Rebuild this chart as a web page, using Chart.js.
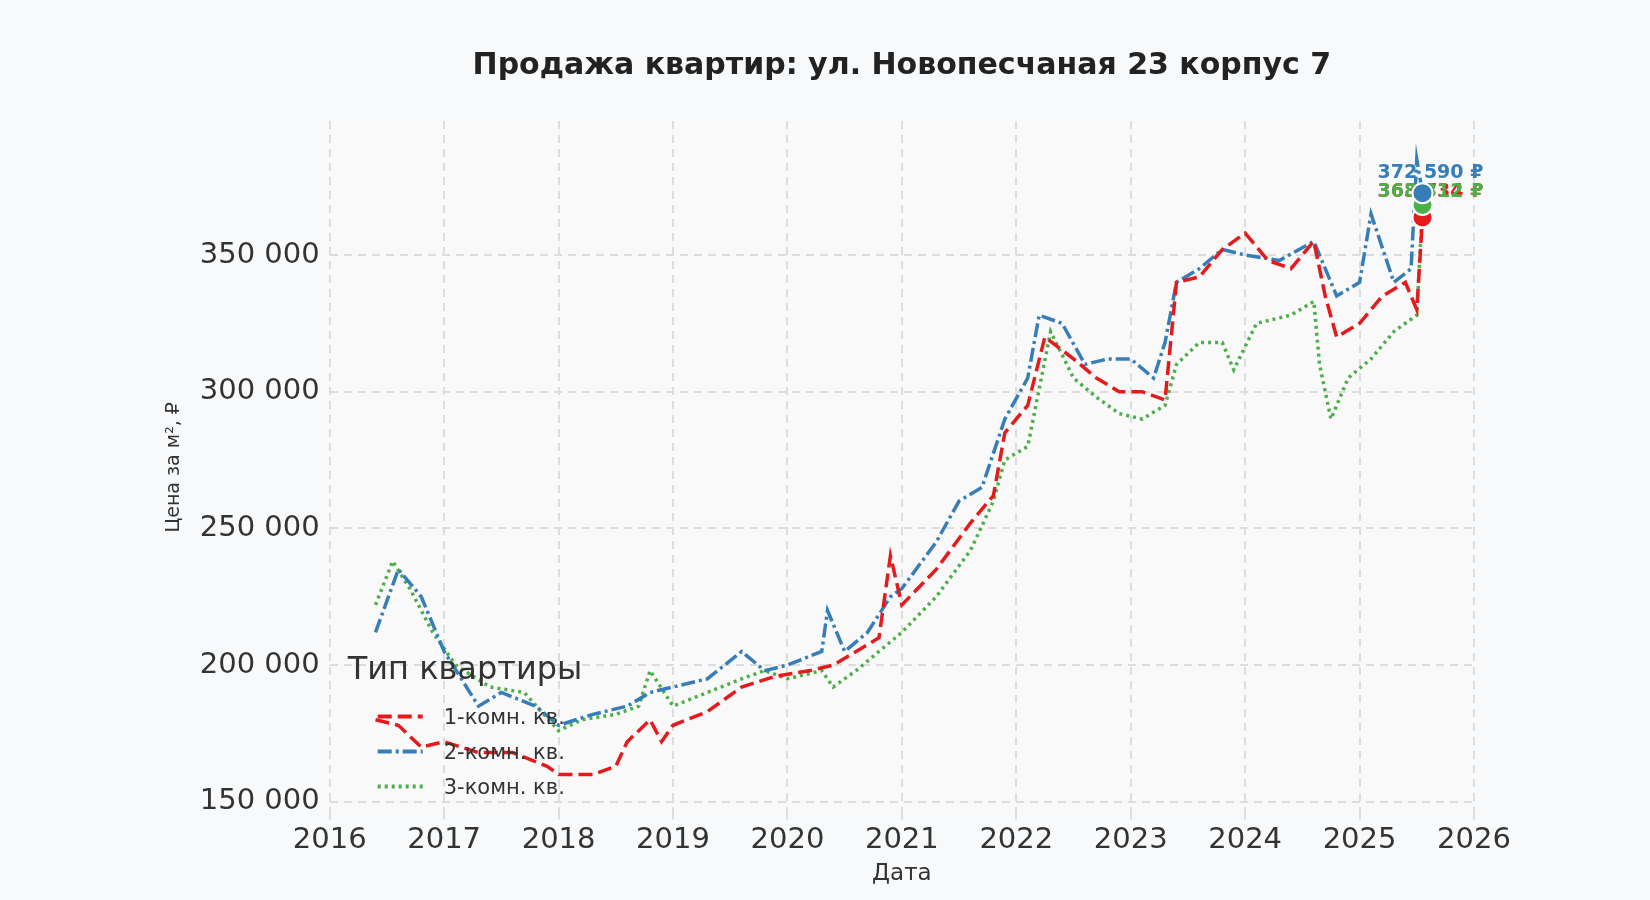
<!DOCTYPE html>
<html><head><meta charset="utf-8">
<script src="https://cdn.jsdelivr.net/npm/chart.js@4"></script>
<style>body{margin:0;background:#f8f9fa}#w{width:1650px;height:900px}</style>
</head><body><div id="w"><canvas id="c"></canvas></div>
<script>
const yearTicks = [2016, 2017, 2018, 2019, 2020, 2021, 2022, 2023, 2024, 2025, 2026];
const priceTicks = [150000, 200000, 250000, 300000, 350000];
const seriesNames = ['1-комн. кв.', '2-комн. кв.', '3-комн. кв.'];
const endLabels = ['363 734 ₽', '372 590 ₽', '368 312 ₽'];

const t1 = [2016.4,2016.6,2016.8,2017.0,2017.3,2017.6,2017.9,2018.0,2018.3,2018.5,2018.6,2018.8,2018.9,2019.0,2019.3,2019.6,2019.9,2020.2,2020.4,2020.6,2020.8,2020.9,2021.0,2021.3,2021.6,2021.8,2021.9,2022.1,2022.25,2022.5,2022.7,2022.9,2023.1,2023.3,2023.4,2023.6,2023.8,2024.0,2024.2,2024.4,2024.6,2024.7,2024.8,2025.0,2025.2,2025.4,2025.5,2025.55];
const v1 = [180000,178000,170000,172000,168000,168000,163000,160000,160000,163000,172000,180000,172000,178000,183000,192000,196000,198000,200000,205000,210000,240000,222000,235000,252000,262000,285000,295000,320000,312000,305000,300000,300000,297000,340000,342000,352000,358000,348000,345000,355000,335000,320000,325000,335000,340000,330000,363734];

const t2 = [2016.4,2016.6,2016.8,2017.0,2017.3,2017.5,2017.8,2018.0,2018.3,2018.6,2018.8,2019.0,2019.3,2019.6,2019.8,2020.0,2020.3,2020.35,2020.5,2020.7,2020.9,2021.0,2021.3,2021.5,2021.7,2021.9,2022.1,2022.2,2022.4,2022.6,2022.8,2023.0,2023.2,2023.3,2023.4,2023.6,2023.8,2024.0,2024.3,2024.6,2024.8,2025.0,2025.1,2025.3,2025.45,2025.5,2025.55];
const v2 = [212000,235000,225000,205000,185000,190000,185000,178000,182000,185000,190000,192000,195000,205000,198000,200000,205000,220000,205000,212000,225000,228000,245000,260000,265000,290000,305000,328000,325000,310000,312000,312000,305000,318000,340000,345000,352000,350000,348000,355000,335000,340000,365000,340000,345000,385000,372590];

const t3 = [2016.4,2016.55,2016.7,2016.9,2017.1,2017.4,2017.7,2018.0,2018.2,2018.5,2018.7,2018.8,2019.0,2019.3,2019.6,2019.8,2020.0,2020.3,2020.4,2020.6,2020.8,2021.0,2021.3,2021.6,2021.8,2021.9,2022.1,2022.3,2022.5,2022.7,2022.9,2023.1,2023.3,2023.4,2023.6,2023.8,2023.9,2024.1,2024.4,2024.6,2024.65,2024.75,2024.9,2025.1,2025.3,2025.5,2025.55];
const v3 = [222000,238000,228000,212000,200000,192000,190000,176000,180000,182000,185000,198000,185000,190000,195000,198000,195000,198000,192000,198000,205000,212000,225000,242000,260000,275000,280000,322000,305000,298000,292000,290000,295000,310000,318000,318000,308000,325000,328000,333000,310000,290000,305000,312000,322000,328000,368312];

const colors = ['#e41a1c', '#377eb8', '#4daf4a'];
const dashes = [[14, 6], [14, 4, 3, 4], [3, 4]];
const pts = (t, v) => t.map((x, i) => ({x: x, y: v[i]}));

const extras = {
  id: 'extras',
  beforeDraw(ch) {
    const a = ch.chartArea, c = ch.ctx;
    c.save(); c.fillStyle = '#f9f9f9'; c.fillRect(a.left, a.top, a.right - a.left, a.bottom - a.top); c.restore();
  },
  afterDatasetsDraw(ch) {
    const c = ch.ctx, xs = ch.scales.x, ys = ch.scales.y, a = ch.chartArea;
    c.save();
    c.font = 'bold 30px "DejaVu Sans"'; c.fillStyle = '#222'; c.textAlign = 'center';
    c.fillText('Продажа квартир: ул. Новопесчаная 23 корпус 7', (a.left + a.right) / 2, 74);
    [0, 2, 1].forEach(i => {
      const d = ch.data.datasets[i];
      const p = d.data[d.data.length - 1];
      const px = xs.getPixelForValue(p.x), py = ys.getPixelForValue(p.y);
      c.beginPath(); c.arc(px, py, 10, 0, Math.PI * 2);
      c.fillStyle = colors[i]; c.fill(); c.lineWidth = 2; c.strokeStyle = '#fff'; c.stroke();
      c.font = 'bold 19px "DejaVu Sans"'; c.fillStyle = colors[i]; c.textAlign = 'center';
      c.fillText(endLabels[i], px + 8, i === 1 ? py - 15 : ys.getPixelForValue(374000) + 8);
    });
    // legend
    let lx = a.left + 18, ly = a.bottom - 135;
    c.font = '32px "DejaVu Sans"'; c.fillStyle = '#333'; c.textAlign = 'left';
    c.fillText('Тип квартиры', lx, ly);
    c.font = '21px "DejaVu Sans"';
    seriesNames.forEach((n, i) => {
      const yy = ly + 45 + i * 35;
      c.beginPath(); c.setLineDash(dashes[i]); c.lineWidth = 4; c.strokeStyle = colors[i];
      c.moveTo(lx + 30, yy - 7); c.lineTo(lx + 75, yy - 7); c.stroke(); c.setLineDash([]);
      c.fillStyle = '#333'; c.fillText(n, lx + 96, yy);
    });
    c.restore();
  }
};

new Chart(document.getElementById('c'), {
  type: 'line',
  data: {
    datasets: [pts(t1, v1), pts(t2, v2), pts(t3, v3)].map((d, i) => ({
      label: seriesNames[i], data: d, borderColor: colors[i], borderWidth: 3.5,
      borderDash: dashes[i], pointRadius: 0, tension: 0, fill: false
    }))
  },
  options: {
    responsive: true, maintainAspectRatio: false, animation: false,
    layout: {padding: {left: 159, right: 176, top: 10, bottom: 12}},
    plugins: {
      legend: {display: false},
      tooltip: {enabled: false},
      title: {display: true, text: ' ', color: 'rgba(0,0,0,0)',
        font: {family: 'DejaVu Sans', size: 30, weight: 'bold'}, padding: {top: 35, bottom: 40}}
    },
    scales: {
      x: {
        type: 'linear', min: 2016, max: 2026,
        afterBuildTicks: s => { s.ticks = yearTicks.map(v => ({value: v})); },
        ticks: {color: '#333', font: {family: 'DejaVu Sans', size: 29}, callback: v => String(v), maxRotation: 0},
        grid: {color: '#dddddd', lineWidth: 2, tickLength: 6},
        border: {display: false, dash: [8, 6]},
        title: {display: true, text: 'Дата', color: '#333', font: {family: 'DejaVu Sans', size: 23}, padding: 0}
      },
      y: {
        min: 145700, max: 399000,
        afterBuildTicks: s => { s.ticks = priceTicks.map(v => ({value: v})); },
        ticks: {color: '#333', font: {family: 'DejaVu Sans', size: 29}, padding: 10,
          callback: v => String(v).replace(/\B(?=(\d{3})+(?!\d))/g, ' ')},
        grid: {color: '#dddddd', lineWidth: 2, tickLength: 0},
        border: {display: false, dash: [8, 6]},
        title: {display: true, text: 'Цена за м², ₽', color: '#333', font: {family: 'DejaVu Sans', size: 19}}
      }
    }
  },
  plugins: [extras]
});
</script></body></html>
